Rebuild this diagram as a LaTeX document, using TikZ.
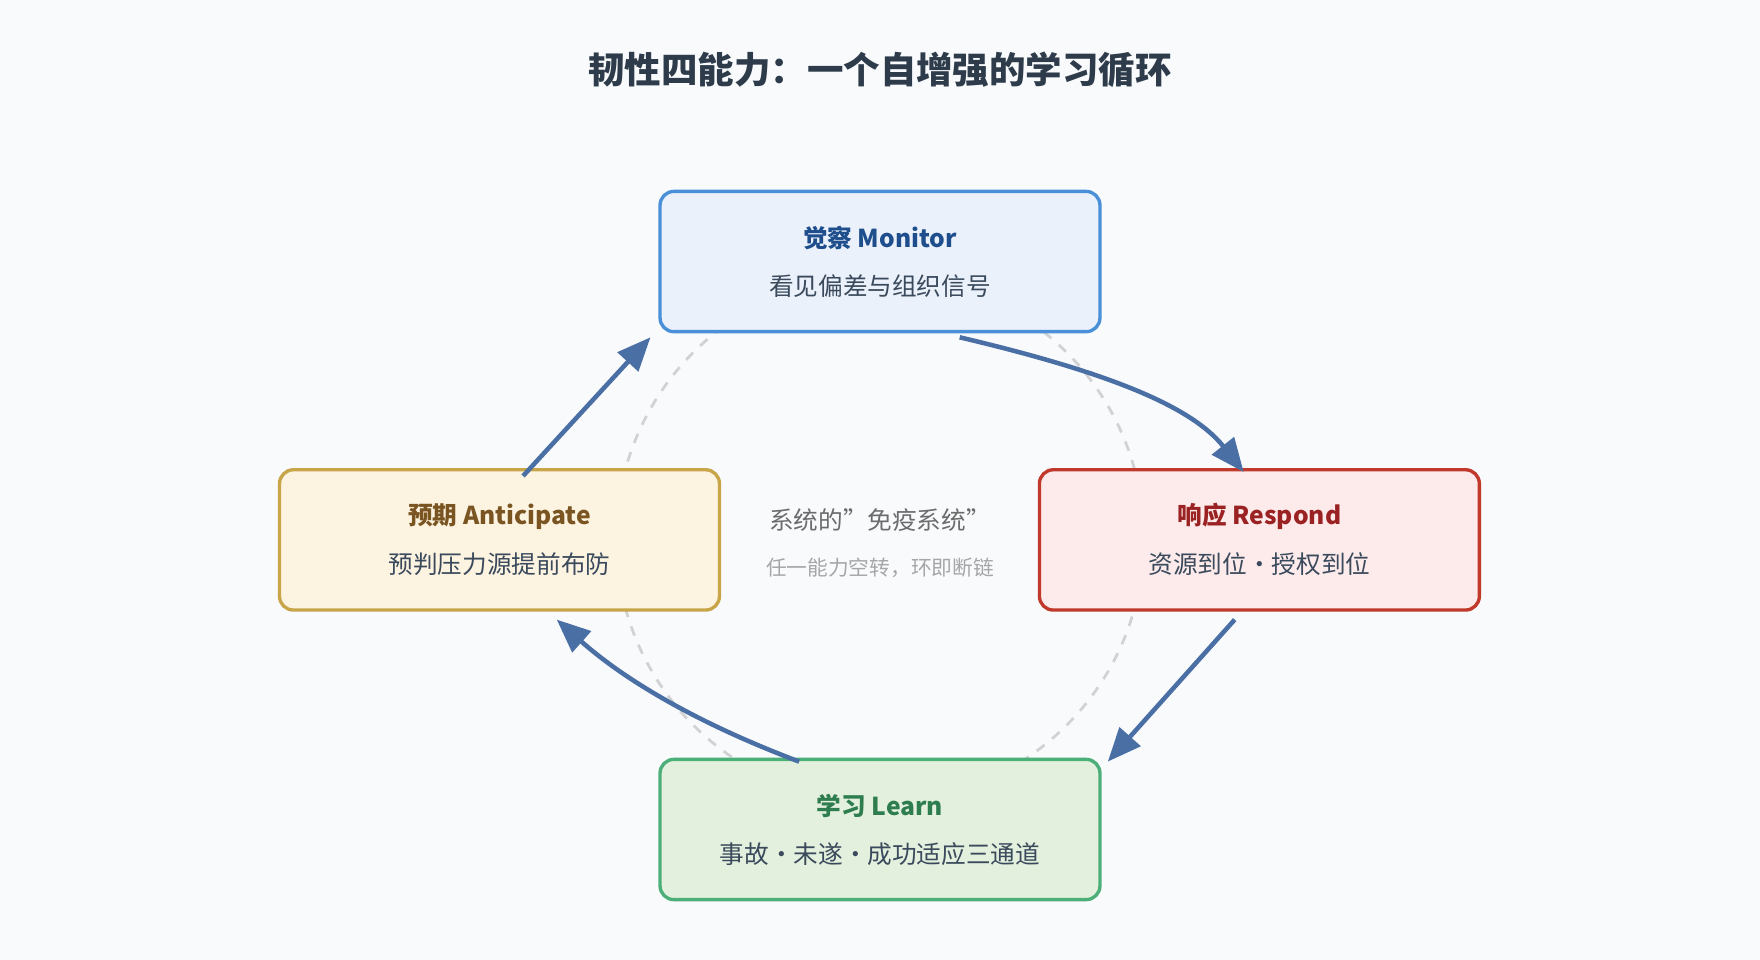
\documentclass[tikz,border=0pt]{standalone}
\usepackage{fontspec}
\setmainfont{Noto Sans CJK SC}
\usetikzlibrary{arrows.meta}
\definecolor{bg}{HTML}{F8FAFC}
\definecolor{arr}{HTML}{4A6FA5}
\definecolor{mfill}{HTML}{EAF1FB}\definecolor{mdraw}{HTML}{4A90D9}\definecolor{mtext}{HTML}{1F4E8C}
\definecolor{afill}{HTML}{FDF3E1}\definecolor{adraw}{HTML}{C9A54A}\definecolor{atext}{HTML}{7A5522}
\definecolor{rfill}{HTML}{FDEBEB}\definecolor{rdraw}{HTML}{C0392B}\definecolor{rtext}{HTML}{9B2222}
\definecolor{lfill}{HTML}{E3F0DD}\definecolor{ldraw}{HTML}{4CAF78}\definecolor{ltext}{HTML}{2E7D4F}
\definecolor{body}{HTML}{3A4A5C}
\begin{document}
\begin{tikzpicture}[x=0.02cm,y=-0.02cm,
 box/.style={rounded corners=7pt,line width=1.7pt,minimum width=7.84cm,minimum height=2.5cm,align=center,inner sep=0pt},
 ttl/.style={font=\fontsize{12.5}{15}\selectfont\bfseries},
 sub/.style={font=\fontsize{12.5}{15}\selectfont,text=body},
 flow/.style={draw=arr,line width=2.3pt,-{Triangle[length=17pt,width=14pt]}}]
\fill[bg] (0,0) rectangle (1568,855);
\useasboundingbox (0,0) rectangle (1568,855);
\node[font=\fontsize{18.5}{22}\selectfont\bfseries,text=body!80!black] (title) at (784,62) {韧性四能力：一个自增强的学习循环};
\draw[gray!35,line width=1.4pt,dash pattern=on 5pt off 5pt] (784,480) circle[radius=235];
\node[box,fill=mfill,draw=mdraw] (mon) at (784,233) {};
\node[ttl,text=mtext] (mont) at (784,212) {觉察 Monitor};
\node[sub] (mons) at (784,255) {看见偏差与组织信号};
\node[box,fill=afill,draw=adraw] (ant) at (445,481) {};
\node[ttl,text=atext] (antt) at (445,460) {预期 Anticipate};
\node[sub] (ants) at (445,503) {预判压力源提前布防};
\node[box,fill=rfill,draw=rdraw] (res) at (1122,481) {};
\node[ttl,text=rtext] (rest) at (1122,460) {响应 Respond};
\node[sub] (ress) at (1122,503) {资源到位·授权到位};
\node[box,fill=lfill,draw=ldraw] (lea) at (784,739) {};
\node[ttl,text=ltext] (leat) at (784,718) {学习 Learn};
\node[sub] (leas) at (784,761) {事故·未遂·成功适应三通道};
\node[font=\fontsize{12.5}{15}\selectfont,text=gray!85!black] (c1) at (784,463) {系统的"免疫系统"};
\node[font=\fontsize{10.5}{13}\selectfont,text=gray!70] (c2) at (784,506) {任一能力空转，环即断链};
\draw[flow] ([xshift=71\pgflinewidth*0+1.42cm,yshift=-2pt]mon.south) .. controls (980,330) and (1060,360) .. ([xshift=-0.28cm,yshift=-2pt]res.north);
\draw[flow] ([xshift=-0.44cm,yshift=-4pt]res.south) -- ([xshift=4.06cm,yshift=-2pt]lea.north);
\draw[flow] ([xshift=-1.44cm,yshift=-2pt]lea.north) .. controls (610,640) and (550,600) .. ([xshift=1.02cm,yshift=-4pt]ant.south);
\draw[flow] ([xshift=0.42cm,yshift=-4pt]ant.north) -- ([xshift=-4pt,yshift=-2pt]mon.south west);
\end{tikzpicture}
\end{document}
